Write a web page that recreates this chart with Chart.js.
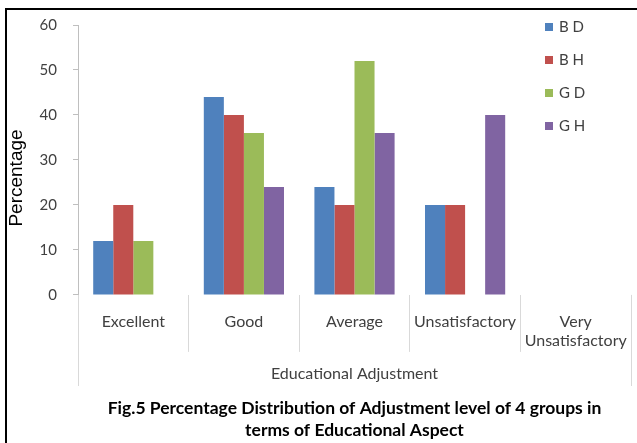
<!DOCTYPE html>
<html>
<head>
<meta charset="utf-8">
<script src="https://cdn.jsdelivr.net/npm/chart.js@4.4.1/dist/chart.umd.min.js"></script>
<style>
  html, body { margin: 0; padding: 0; background: #fff; }
  #wrap { position: relative; width: 637px; height: 443px; }
  #frame { position: absolute; left: 5px; top: 8px; right: 0; bottom: 0;
           border-top: 2px solid #000; border-left: 2px solid #000; pointer-events: none; }
</style>
</head>
<body>
<div id="wrap">
  <canvas id="chart" width="637" height="443"></canvas>
  <div id="frame"></div>
</div>
<script>
// categories and series
var categories = ['Excellent', 'Good', 'Average', 'Unsatisfactory', ['Very', 'Unsatisfactory']];
var groupNames = ['B D', 'B H', 'G D', 'G H'];
var bd = [12, 44, 24, 20, 0];
var bh = [20, 40, 20, 20, 0];
var gd = [12, 36, 52, 0, 0];
var gh = [0, 24, 36, 40, 0];
var yTicks = [0, 10, 20, 30, 40, 50, 60];

var colors = ['#4F81BD', '#C0504D', '#9BBB59', '#8064A2'];
var font = 'Lato, "Open Sans", sans-serif';

// legend sits inside the plot, top right, like the excel one
var sideLegend = {
    id: 'sideLegend',
    afterDraw: function(chart) {
        var c = chart.ctx;
        c.save();
        c.font = '15px ' + font;
        c.textBaseline = 'middle';
        chart.data.datasets.forEach(function(ds, i) {
            var y = 27 + i * 33;
            c.fillStyle = ds.backgroundColor;
            c.fillRect(545, y - 4, 8, 8);
            c.fillStyle = '#404040';
            c.fillText(ds.label, 559, y);
        });
        c.restore();
    }
};

// outer lines of the category box run down past the labels,
// and the y title sits a bit lower than the axis middle
var extras = {
    id: 'extras',
    afterDraw: function(chart) {
        var a = chart.chartArea;
        var c = chart.ctx;
        c.save();
        c.strokeStyle = '#d9d9d9';
        c.lineWidth = 1;
        [a.left, a.right].forEach(function(x) {
            c.beginPath();
            c.moveTo(Math.round(x) + 0.5, a.bottom);
            c.lineTo(Math.round(x) + 0.5, 386);
            c.stroke();
        });
        c.translate(17, 178);
        c.rotate(-Math.PI / 2);
        c.font = '19px "Liberation Sans", Arial, sans-serif';
        c.fillStyle = '#000';
        c.textAlign = 'center';
        c.textBaseline = 'middle';
        c.fillText('Percentage', 0, 0);
        c.restore();
    }
};

var data = [bd, bh, gd, gh];
new Chart(document.getElementById('chart'), {
    type: 'bar',
    data: {
        labels: categories,
        datasets: data.map(function(vals, i) {
            return {
                label: groupNames[i],
                data: vals,
                backgroundColor: colors[i],
                borderWidth: 0,
                barPercentage: 1,
                categoryPercentage: 0.725
            };
        })
    },
    options: {
        responsive: false,
        animation: false,
        layout: { padding: { left: 0, right: 6, top: 16, bottom: 2 } },
        plugins: {
            legend: { display: false },
            tooltip: { enabled: false },
            title: {
                display: true,
                position: 'bottom',
                fullSize: false,
                text: ['Fig.5 Percentage Distribution of Adjustment level of 4 groups in', 'terms of Educational Aspect'],
                color: '#000',
                font: { family: font, size: 17.5, weight: 'bold', lineHeight: 1.26 },
                padding: { top: 11, bottom: 0 }
            }
        },
        scales: {
            x: {
                border: { display: false },
                grid: { display: true, offset: true, drawOnChartArea: false, tickLength: 57, color: '#d9d9d9' },
                ticks: { color: '#404040', padding: -40, font: { family: font, size: 16 } },
                title: { display: true, text: 'Educational Adjustment', color: '#404040',
                         font: { family: font, size: 16 }, padding: { top: 0, bottom: 2 } },
                afterFit: function(axis) { axis.height = 91; }
            },
            y: {
                min: 0, max: 60,
                afterBuildTicks: function(axis) {
                    axis.ticks = yTicks.map(function(v) { return { value: v }; });
                },
                border: { display: true, color: '#bfbfbf' },
                grid: { drawOnChartArea: false, tickLength: 5, color: '#bfbfbf' },
                ticks: { color: '#404040', padding: 16, font: { family: font, size: 15 } },
                afterFit: function(axis) { axis.width = 78; }
            }
        }
    },
    plugins: [sideLegend, extras]
});
</script>
</body>
</html>
